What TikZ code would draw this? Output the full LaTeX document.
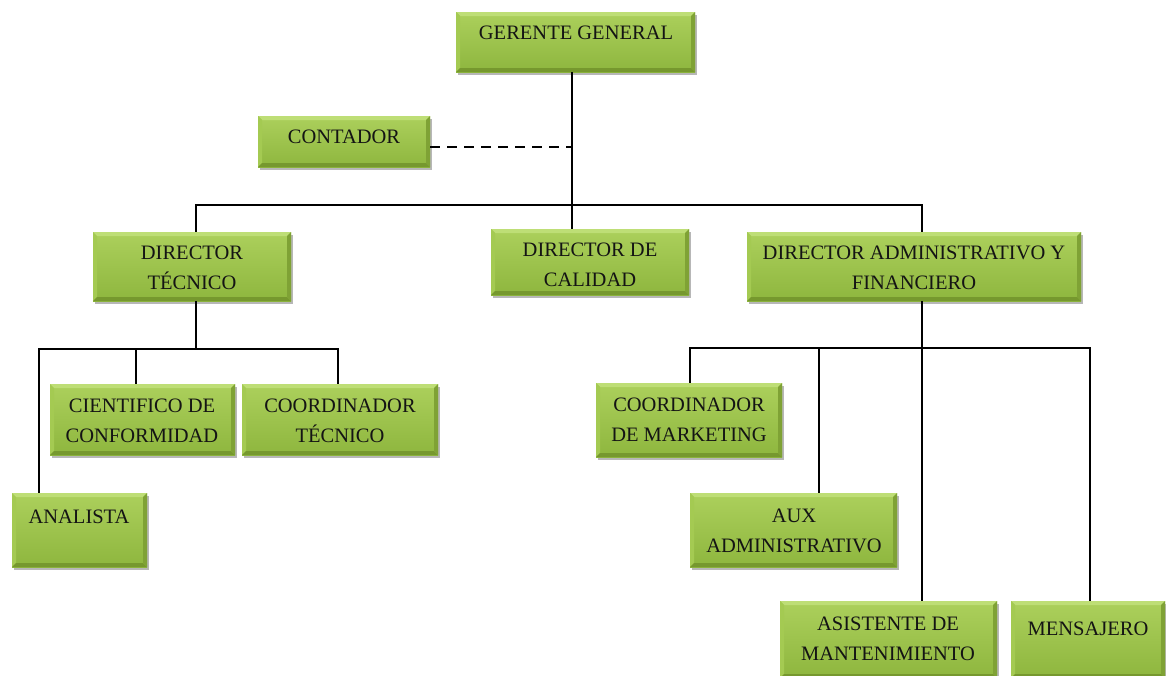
\documentclass[tikz,border=0pt]{standalone}
\usepackage{fontspec}
\setmainfont{Liberation Serif}
\usetikzlibrary{fit,shadows}

\definecolor{gtop}{RGB}{172,208,92}
\definecolor{gbot}{RGB}{142,182,62}
\definecolor{glight}{RGB}{190,222,118}
\definecolor{gside}{RGB}{164,202,82}
\definecolor{gdark}{RGB}{118,152,46}

\tikzset{
  orgbox/.style={rectangle, inner sep=0pt, top color=gtop, bottom color=gbot,
    drop shadow={shadow xshift=2pt, shadow yshift=-3pt, opacity=0.4, fill=black!70},
    path picture={
      % bevelled rim: light top, mid left, dark bottom and right
      \fill[glight] (path picture bounding box.north west) -- (path picture bounding box.north east)
        -- ([xshift=-4pt,yshift=-4pt]path picture bounding box.north east)
        -- ([xshift=4pt,yshift=-4pt]path picture bounding box.north west) -- cycle;
      \fill[gside] (path picture bounding box.north west) -- ([xshift=4pt,yshift=-4pt]path picture bounding box.north west)
        -- ([xshift=4pt,yshift=4pt]path picture bounding box.south west)
        -- (path picture bounding box.south west) -- cycle;
      \fill[gdark] (path picture bounding box.south west) -- (path picture bounding box.south east)
        -- ([xshift=-4pt,yshift=4pt]path picture bounding box.south east)
        -- ([xshift=4pt,yshift=4pt]path picture bounding box.south west) -- cycle;
      \fill[gdark!80!gside] (path picture bounding box.north east) -- ([xshift=-4pt,yshift=-4pt]path picture bounding box.north east)
        -- ([xshift=-4pt,yshift=4pt]path picture bounding box.south east)
        -- (path picture bounding box.south east) -- cycle;
    }},
  lbl/.style={font=\fontsize{20.5}{30}\selectfont, align=center, text=black!92, inner sep=0pt},
  link/.style={draw=black, line width=1.1pt},
  dashlink/.style={link, dash pattern=on 10pt off 7pt},
}

\begin{document}
\begin{tikzpicture}[x=1pt, y=-1pt]
\useasboundingbox (0,0) rectangle (1166,675);

% boxes
\node[orgbox, fit={(456,12) (695,72)}]    (gg)  {};
\node[orgbox, fit={(258,116) (430,167)}]  (con) {};
\node[orgbox, fit={(93,232) (291,301)}]   (dt)  {};
\node[orgbox, fit={(491,229) (689,295)}]  (dc)  {};
\node[orgbox, fit={(747,232) (1081,301)}] (daf) {};
\node[orgbox, fit={(50,384) (235,455)}]   (cc)  {};
\node[orgbox, fit={(242,384) (438,455)}]  (ct)  {};
\node[orgbox, fit={(12,493) (147,567)}]   (an)  {};
\node[orgbox, fit={(596,383) (782,457)}]  (cm)  {};
\node[orgbox, fit={(690,493) (897,567)}]  (aux) {};
\node[orgbox, fit={(780,601) (997,678)}]  (asm) {};
\node[orgbox, fit={(1011,601) (1165,678)}] (men) {};

% labels
\node[lbl] (gg-t)  at (576,33)   {GERENTE GENERAL};
\node[lbl] (con-t) at (344,137)  {CONTADOR};
\node[lbl] (dt-t)  at (192,268)  {DIRECTOR\\TÉCNICO};
\node[lbl] (dc-t)  at (590,265)  {DIRECTOR DE\\CALIDAD};
\node[lbl] (daf-t) at (914,268)  {DIRECTOR ADMINISTRATIVO Y\\FINANCIERO};
\node[lbl] (cc-t)  at (142,421)  {CIENTIFICO DE\\CONFORMIDAD};
\node[lbl] (ct-t)  at (340,421)  {COORDINADOR\\TÉCNICO};
\node[lbl] (an-t)  at (79,517)   {ANALISTA};
\node[lbl] (cm-t)  at (689,420)  {COORDINADOR\\DE MARKETING};
\node[lbl] (aux-t) at (794,531)  {AUX\\ADMINISTRATIVO};
\node[lbl] (asm-t) at (888,639)  {ASISTENTE DE\\MANTENIMIENTO};
\node[lbl] (men-t) at (1088,629) {MENSAJERO};

% junction points and connector columns
\coordinate (j0) at (572,205);
\coordinate (jc) at (572,147);
\coordinate (j1) at (196,349);
\coordinate (j2) at (922,348);
\coordinate (xan)  at (39,0);
\coordinate (xcc)  at (136,0);
\coordinate (xct)  at (338,0);
\coordinate (xcm)  at (690,0);
\coordinate (xaux) at (819,0);
\coordinate (xmen) at (1090,0);

% top level
\draw[link] (gg.south -| j0) -- (j0);
\draw[dashlink] (con.east |- jc) -- (jc);
\draw[link] (dt.north -| j1) |- (j0) -| (daf.north -| j2);
\draw[link] (j0) -- (dc.north -| j0);

% technical branch
\draw[link] (dt.south -| j1) -- (j1);
\draw[link] (an.north -| xan) |- (j1) -| (ct.north -| xct);
\draw[link] (cc.north -| xcc) -- (j1 -| xcc);

% administrative branch
\draw[link] (daf.south -| j2) -- (j2);
\draw[link] (cm.north -| xcm) |- (j2) -| (men.north -| xmen);
\draw[link] (aux.north -| xaux) -- (j2 -| xaux);
\draw[link] (j2) -- (asm.north -| j2);
\end{tikzpicture}
\end{document}
